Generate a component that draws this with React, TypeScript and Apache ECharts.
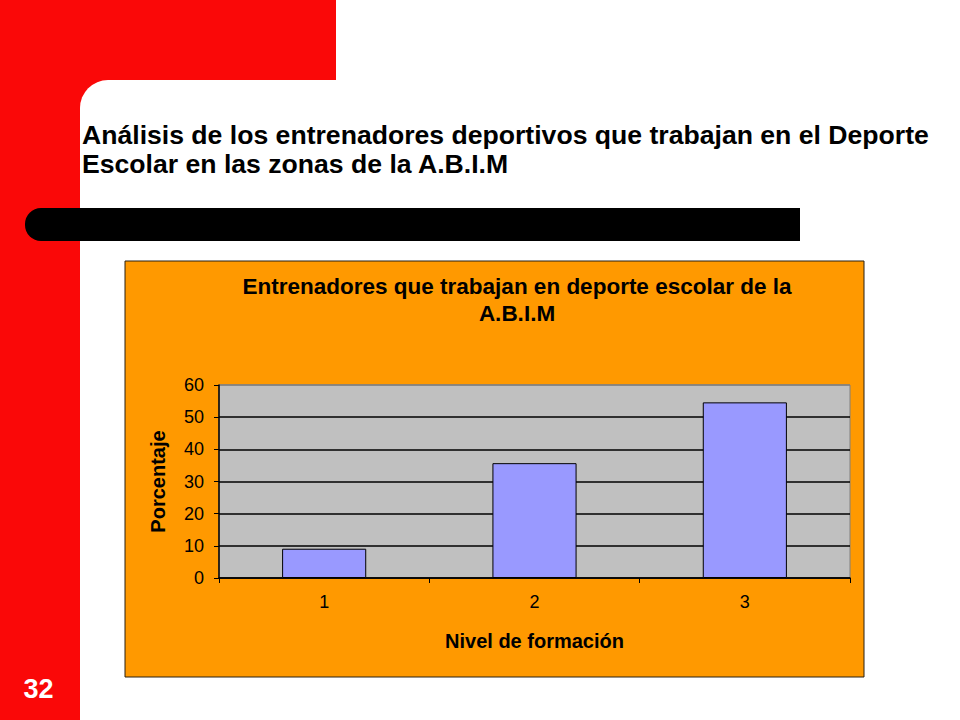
import React, { useEffect, useRef } from 'react';
import * as echarts from 'echarts';

const categories = ['1', '2', '3'];
const porcentaje = [9.1, 35.7, 54.6];
const yTicks = { min: 0, max: 60, interval: 10 };

const slideTitle = [
  'Análisis de los entrenadores deportivos que trabajan en el Deporte',
  'Escolar en las zonas de la A.B.I.M',
];
const chartTitle = 'Entrenadores que trabajan en deporte escolar de la\nA.B.I.M';
const slideNumber = '32';

const RED = '#FA0808';
const FONT = '"Liberation Sans", Arial, sans-serif';

const App: React.FC = () => {
  const chartRef = useRef<HTMLDivElement>(null);

  useEffect(() => {
    if (!chartRef.current) return;
    const myChart = echarts.init(chartRef.current, null, { renderer: 'svg' });
    const option = {
      animation: false,
      backgroundColor: '#fff',
      textStyle: { fontFamily: FONT },
      title: {
        text: chartTitle,
        left: 512,
        top: 268,
        textAlign: 'center',
        textStyle: { fontSize: 22.5, fontWeight: 'bold', color: '#000', lineHeight: 27, fontFamily: FONT },
      },
      graphic: [
        // fondo de la diapositiva
        { type: 'rect', z: -10, shape: { x: 0, y: 0, width: 80, height: 720 }, style: { fill: RED } },
        { type: 'rect', z: -10, shape: { x: 0, y: 0, width: 336, height: 120 }, style: { fill: RED } },
        { type: 'rect', z: -9, shape: { x: 80, y: 80, width: 300, height: 100, r: [28, 0, 0, 0] }, style: { fill: '#fff' } },
        { type: 'rect', z: -8, shape: { x: 25, y: 208, width: 775, height: 33, r: [16, 0, 0, 16] }, style: { fill: '#000' } },
        {
          type: 'text', z: -8, x: 82, y: 134.5,
          style: { text: slideTitle[0], fill: '#000', font: `bold 26.6px ${FONT}`, verticalAlign: 'middle' },
        },
        {
          type: 'text', z: -8, x: 82, y: 164,
          style: { text: slideTitle[1], fill: '#000', font: `bold 26.6px ${FONT}`, verticalAlign: 'middle' },
        },
        {
          type: 'text', z: -8, x: 38.5, y: 689,
          style: { text: slideNumber, fill: '#fff', font: `bold 27px ${FONT}`, align: 'center', verticalAlign: 'middle' },
        },
        // área del gráfico
        {
          type: 'rect', z: -7, shape: { x: 125, y: 261, width: 739, height: 416 },
          style: { fill: '#FF9900', stroke: '#2a2010', lineWidth: 1 },
        },
      ],
      grid: {
        left: 219,
        right: 110,
        top: 385,
        bottom: 142,
        show: true,
        backgroundColor: '#C0C0C0',
        borderColor: '#808080',
        borderWidth: 1,
        z: 0,
      },
      xAxis: {
        type: 'category',
        data: categories,
        name: 'Nivel de formación',
        nameLocation: 'middle',
        nameGap: 53,
        nameTextStyle: { fontSize: 20, fontWeight: 'bold', color: '#000' },
        axisLine: { lineStyle: { color: '#000', width: 1.5 } },
        axisTick: { show: true, length: 5, lineStyle: { color: '#000' } },
        axisLabel: { fontSize: 18, color: '#000', margin: 15 },
        splitLine: { show: false },
      },
      yAxis: {
        type: 'value',
        min: yTicks.min,
        max: yTicks.max,
        interval: yTicks.interval,
        name: 'Porcentaje',
        nameLocation: 'middle',
        nameRotate: 90,
        nameGap: 51,
        nameTextStyle: { fontSize: 20, fontWeight: 'bold', color: '#000' },
        axisLine: { show: true, lineStyle: { color: '#000', width: 1.5 } },
        axisTick: { show: true, length: 5, lineStyle: { color: '#000' } },
        axisLabel: { fontSize: 18, color: '#000', margin: 15 },
        splitLine: {
          show: true,
          lineStyle: { color: ['#000', '#000', '#000', '#000', '#000', '#000', '#808080'], width: 1.5 },
        },
      },
      series: [
        {
          type: 'bar',
          data: porcentaje,
          barWidth: '40%',
          itemStyle: { color: '#9999FF', borderColor: '#000', borderWidth: 1 },
        },
      ],
    };
    myChart.setOption(option);
    return () => {
      myChart.dispose();
    };
  }, []);

  return (
    <div
      ref={chartRef}
      style={{ position: 'fixed', left: 0, top: 0, width: '960px', height: '720px' }}
    />
  );
};

export default App;
